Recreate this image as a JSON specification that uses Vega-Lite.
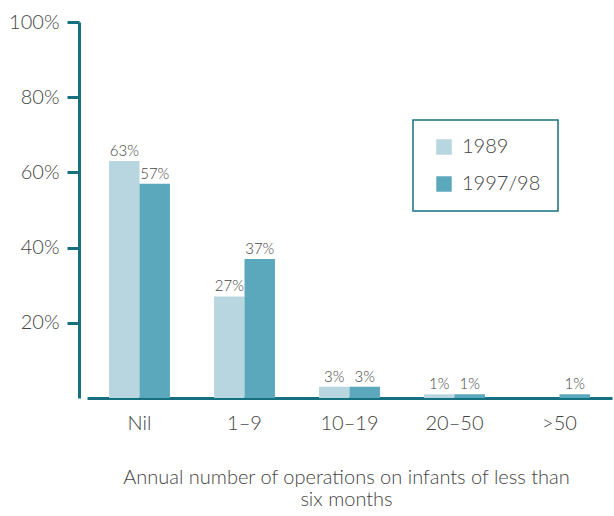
{
  "$schema": "https://vega.github.io/schema/vega-lite/v6.json",
  "width": 525,
  "height": 376,
  "autosize": "none",
  "padding": {"left": 79, "top": 22, "right": 10, "bottom": 118},
  "background": "white",
  "config": {
    "view": {"stroke": null},
    "font": "Lato",
    "axis": {"grid": false},
    "legend": {"strokeColor": "#16707f", "strokeWidth": 1.5}
  },
  "data": {
    "values": [
      {"category": "Nil", "year": "1989", "value": 63, "label": "63%"},
      {"category": "Nil", "year": "1997/98", "value": 57, "label": "57%"},
      {"category": "1–9", "year": "1989", "value": 27, "label": "27%"},
      {"category": "1–9", "year": "1997/98", "value": 37, "label": "37%"},
      {"category": "10–19", "year": "1989", "value": 3, "label": "3%"},
      {"category": "10–19", "year": "1997/98", "value": 3, "label": "3%"},
      {"category": "20–50", "year": "1989", "value": 1, "label": "1%"},
      {"category": "20–50", "year": "1997/98", "value": 1, "label": "1%"},
      {"category": ">50", "year": "1997/98", "value": 1, "label": "1%"}
    ]
  },
  "encoding": {
    "x": {
      "field": "category",
      "type": "nominal",
      "sort": ["Nil", "1–9", "10–19", "20–50", ">50"],
      "scale": {"range": [8, 533], "paddingInner": 0.42, "paddingOuter": 0.21},
      "axis": {
        "title": ["Annual number of operations on infants of less than", "six months"],
        "titleFont": "Lato",
        "titleFontWeight": 300,
        "titleFontSize": 20,
        "titleColor": "#444444",
        "titlePadding": 34,
        "titleX": 267,
        "titleLineHeight": 22,
        "labelAngle": 0,
        "labelFontSize": 20,
        "labelFontWeight": 300,
        "labelColor": "#444444",
        "labelPadding": 15,
        "ticks": false,
        "domainColor": "#16707f",
        "domainWidth": 3
      }
    },
    "xOffset": {"field": "year", "type": "nominal", "sort": ["1989", "1997/98"]},
    "y": {
      "field": "value",
      "type": "quantitative",
      "scale": {"domain": [0, 100]},
      "axis": {
        "title": null,
        "values": [20, 40, 60, 80, 100],
        "labelExpr": "datum.value + '%'",
        "labelFontSize": 20,
        "labelFontWeight": 300,
        "labelColor": "#444444",
        "labelPadding": 8,
        "tickSize": 12,
        "tickWidth": 3,
        "tickColor": "#16707f",
        "domainColor": "#16707f",
        "domainWidth": 3
      }
    }
  },
  "layer": [
    {
      "mark": {"type": "bar"},
      "encoding": {
        "color": {
          "field": "year",
          "type": "nominal",
          "scale": {"domain": ["1989", "1997/98"], "range": ["#b8d6e0", "#5ba8bd"]},
          "legend": {
            "title": null,
            "orient": "none",
            "legendX": 334,
            "legendY": 98,
            "padding": 17,
            "symbolType": "square",
            "symbolSize": 240,
            "symbolStrokeWidth": 0,
            "labelFontSize": 20,
            "labelFontWeight": 300,
            "labelColor": "#444444",
            "rowPadding": 17,
            "labelOffset": 8,
            "symbolOffset": 4
          }
        }
      }
    },
    {
      "mark": {"type": "text", "baseline": "bottom", "dy": -2, "fontSize": 15, "fontWeight": 300, "color": "#444444"},
      "encoding": {
        "text": {"field": "label", "type": "nominal"}
      }
    }
  ]
}
